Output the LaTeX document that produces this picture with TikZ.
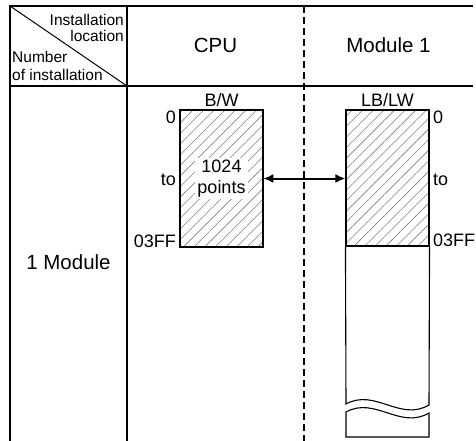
\documentclass[tikz,border=0pt]{standalone}
\usepackage{fontspec}
\setmainfont{Liberation Sans}
\usetikzlibrary{arrows.meta,positioning,patterns.meta,calc}

\begin{document}
\begin{tikzpicture}[x=1pt,y=-1pt,>={Latex[length=10pt,width=9pt]},
  grid/.style={line width=1.6pt},
  hdr/.style={font=\fontsize{20.5}{23}\selectfont,inner sep=0pt},
  corner/.style={font=\fontsize{15.5}{17}\selectfont,inner sep=0pt},
  lbl/.style={font=\fontsize{18}{21}\selectfont,inner sep=1pt},
  mem/.style={draw,line width=1.1pt,minimum width=83pt,inner sep=0pt,
    pattern={Lines[angle=45,distance=7.5pt,line width=0.6pt]},pattern color=gray}]
  \useasboundingbox (0,0) rectangle (476,441);
  % table frame
  \draw[grid] (10,441) -- (10,6) -- (473,6);
  \draw[grid] (10,86) -- (473,86);
  \draw[grid] (127,6) -- (127,441);
  \draw[line width=1.1pt,dash pattern=on 7pt off 4pt] (304,6) -- (304,441);
  \draw[line width=1pt] (10,6) -- (127,86);
  % header cells
  \node[corner,anchor=base east] (inst) at (124,26) {Installation};
  \node[corner,anchor=base east] (loc) at (124,42) {location};
  \node[corner,anchor=base west] (num) at (12,63) {Number};
  \node[corner,anchor=base west] (ofi) at (12,81) {of installation};
  \node[hdr,anchor=base] (hcpu) at (215.5,53) {CPU};
  \node[hdr,anchor=base] (hmod) at (388.5,53) {Module 1};
  \node[hdr,anchor=base] (row) at (68.5,269) {1 Module};
  % CPU memory
  \node[mem,minimum height=137pt] (cpu) at (221.5,178.5) {};
  \node[lbl,fill=white,align=center,inner sep=2pt] (pts) at (cpu) {1024\\points};
  \node[lbl,above=2pt of cpu] (bw) {B/W};
  \node[lbl,anchor=base east] (c0) at (177,124) {0};
  \node[lbl,anchor=base east] (cto) at (177,185) {to};
  \node[lbl,anchor=base east] (cend) at (177,247) {03FF};
  % module memory
  \node[mem,minimum height=136pt] (lbw) at (387.5,178) {};
  \node[lbl,above=2pt of lbw] (lblw) {LB/LW};
  \node[lbl,anchor=base west] (m0) at (432,124) {0};
  \node[lbl,anchor=base west] (mto) at (432,185) {to};
  \node[lbl,anchor=base west] (mend) at (432,246) {03FF};
  \draw[line width=1.1pt] (lbw.south west) -- (346,404)
    .. controls (375,388) and (400,422) .. (429,405) -- (lbw.south east);
  \draw[line width=1.1pt] (346,412) .. controls (375,396) and (400,430) .. (429,413)
    -- (429,437) -- (346,437) -- cycle;
  % transfer
  \draw[<->,line width=2pt] (cpu.east) -- (cpu.east -| lbw.west);
\end{tikzpicture}
\end{document}
